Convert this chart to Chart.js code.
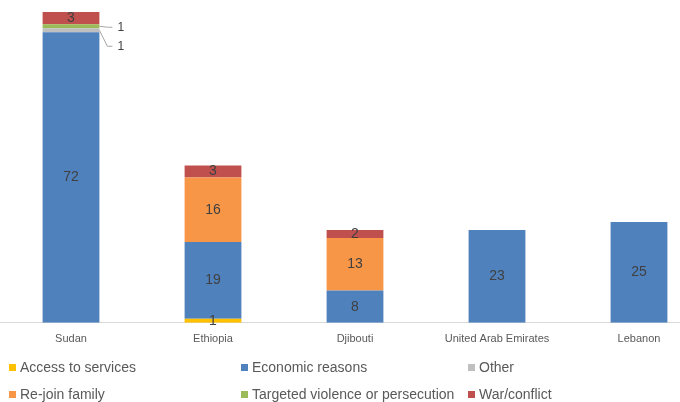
<!DOCTYPE html>
<html>
<head>
<meta charset="utf-8">
<script src="https://cdn.jsdelivr.net/npm/chart.js@4"></script>
<style>
  html, body { margin: 0; padding: 0; background: #fff; overflow: hidden; }
  #wrap { position: relative; width: 712px; height: 402px; }
  #legend { position: absolute; left: 0; top: 359px; width: 680px; font-family: "Liberation Sans", Arial, sans-serif; font-size: 14px; color: #595959; }
  .item { position: absolute; white-space: nowrap; }
  .item span.box { display: inline-block; width: 7px; height: 7px; margin-right: 4px; vertical-align: 1px; }
</style>
</head>
<body>
<div id="wrap">
  <canvas id="myChart" width="712" height="402"></canvas>
  <div id="legend"></div>
</div>
<script>
let countries = ["Sudan", "Ethiopia", "Djibouti", "United Arab Emirates", "Lebanon"];
let accessToServices = [0, 1, 0, 0, 0];
let economicReasons = [72, 19, 8, 23, 25];
let other = [1, 0, 0, 0, 0];
let rejoinFamily = [0, 16, 13, 0, 0];
let targetedViolence = [1, 0, 0, 0, 0];
let warConflict = [3, 3, 2, 0, 0];

let seriesNames = ["Access to services", "Economic reasons", "Other", "Re-join family", "Targeted violence or persecution", "War/conflict"];
let seriesColors = ["#FFC000", "#4F81BD", "#BFBFBF", "#F79646", "#9BBB59", "#C0504D"];
let seriesValues = [accessToServices, economicReasons, other, rejoinFamily, targetedViolence, warConflict];

let myChart;

// labels drawn in the middle of every segment, tiny ones moved out with a leader line
const segmentLabels = {
  id: "segmentLabels",
  afterDatasetsDraw(chart) {
    const ctx = chart.ctx;
    ctx.save();
    ctx.font = "14px 'Liberation Sans', Arial, sans-serif";
    ctx.fillStyle = "#404040";
    ctx.textBaseline = "middle";
    let outside = 0;
    chart.data.datasets.forEach((ds, di) => {
      const meta = chart.getDatasetMeta(di);
      meta.data.forEach((bar, i) => {
        const v = ds.data[i];
        if (!v) return;
        const h = Math.abs(bar.base - bar.y);
        const cy = (bar.y + bar.base) / 2;
        if (h < 6 && ds.label !== "Access to services") {
          // small slice: put label to the right
          const right = bar.x + bar.width / 2;
          const ly = outside === 0 ? cy + 16 : cy + 1;
          ctx.strokeStyle = "#A6A6A6";
          ctx.lineWidth = 1;
          ctx.beginPath();
          ctx.moveTo(right, cy);
          ctx.lineTo(right + 8, ly);
          ctx.lineTo(right + 13, ly);
          ctx.stroke();
          ctx.textAlign = "left";
          ctx.font = "12px 'Liberation Sans', Arial, sans-serif";
          ctx.fillText(v, right + 18, ly);
          ctx.font = "14px 'Liberation Sans', Arial, sans-serif";
          outside++;
        } else {
          ctx.textAlign = "center";
          ctx.fillText(v, bar.x, cy);
        }
      });
    });
    ctx.restore();
  }
};

function renderLegend() {
  const cols = [9, 241, 468];
  const rows = [0, 27];
  let html = "";
  seriesNames.forEach((name, i) => {
    const x = cols[i % 3];
    const y = rows[Math.floor(i / 3)];
    html += '<div class="item" style="left:' + x + 'px;top:' + y + 'px"><span class="box" style="background:' + seriesColors[i] + '"></span>' + name + '</div>';
  });
  document.getElementById("legend").innerHTML = html;
}

function renderChart() {
  const ctx = document.getElementById("myChart");
  const datasets = seriesNames.map((name, i) => ({
    label: name,
    data: seriesValues[i],
    backgroundColor: seriesColors[i],
    borderWidth: 0,
    barPercentage: 0.4,
    categoryPercentage: 1
  }));
  myChart = new Chart(ctx, {
    type: "bar",
    data: { labels: countries, datasets: datasets },
    plugins: [segmentLabels],
    options: {
      responsive: false,
      animation: false,
      layout: { padding: { left: 0, right: 2, top: 0, bottom: 46 } },
      plugins: { legend: { display: false }, tooltip: { enabled: false } },
      scales: {
        x: {
          stacked: true,
          grid: { display: false, drawTicks: false },
          border: { display: true, color: "#D9D9D9" },
          ticks: { color: "#595959", font: { family: "'Liberation Sans', Arial, sans-serif", size: 11 }, padding: 10 }
        },
        y: {
          stacked: true,
          display: false,
          min: 0,
          max: 80
        }
      }
    }
  });
}

renderLegend();
renderChart();
</script>
</body>
</html>
